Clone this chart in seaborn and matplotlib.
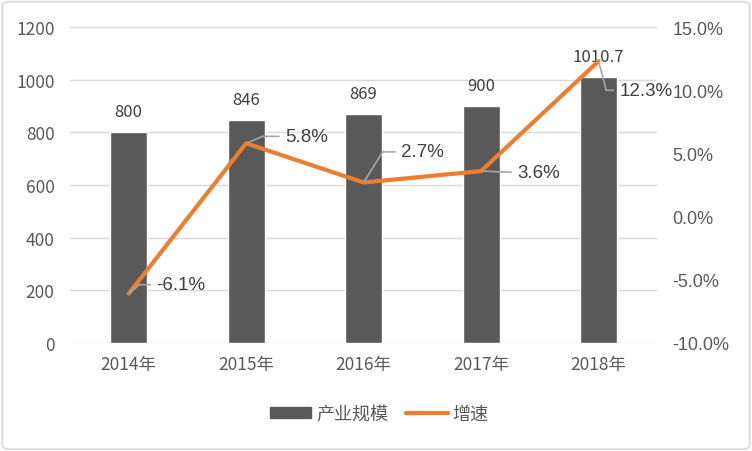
import matplotlib
matplotlib.use("Agg")
import matplotlib.pyplot as plt
import seaborn as sns
import pandas as pd
import numpy as np
from matplotlib.patches import FancyBboxPatch
from matplotlib.lines import Line2D
from matplotlib.patches import Patch

years = ["2014年", "2015年", "2016年", "2017年", "2018年"]
scale = [800, 846, 869, 900, 1010.7]
scale_labels = ["800", "846", "869", "900", "1010.7"]
growth = [-6.1, 5.8, 2.7, 3.6, 12.3]
growth_labels = ["-6.1%", "5.8%", "2.7%", "3.6%", "12.3%"]
left_ticks = [0, 200, 400, 600, 800, 1000, 1200]
right_ticks = [-10, -5, 0, 5, 10, 15]

sns.set_theme(style="white")
plt.rcParams['font.family'] = ['Noto Sans CJK SC', 'DejaVu Sans']

BAR = "#595959"
ORANGE = "#ED7D31"
TXT = "#595959"
GRID = "#D9D9D9"
LAT = ['Liberation Sans', 'DejaVu Sans']

fig = plt.figure(figsize=(7.52, 4.52), dpi=100)
ax = fig.add_axes([0.093, 0.239, 0.781, 0.699])

df = pd.DataFrame({"year": years, "scale": scale, "growth": growth})
sns.barplot(data=df, x="year", y="scale", color=BAR, width=0.315, ax=ax,
            saturation=1, zorder=2)
ax.set_xlim(-0.5, len(years) - 0.5)
ax.set_ylim(0, 1200)
ax.set_yticks(left_ticks)
ax.set_yticklabels([str(t) for t in left_ticks])
ax.grid(axis="y", color=GRID, linewidth=1, zorder=0)
ax.set_axisbelow(True)
ax.set_xlabel("")
ax.set_ylabel("")
for s in ax.spines.values():
    s.set_visible(False)
ax.tick_params(axis="y", length=0, labelsize=12.5, colors=TXT, pad=11)
ax.tick_params(axis="x", length=0, labelsize=12.5, colors=TXT, pad=9)

for i, (v, lab) in enumerate(zip(scale, scale_labels)):
    ax.annotate(lab, (i, v), xytext=(0, 15), textcoords="offset points",
                ha="center", va="center", fontsize=12, color="#404040")

ax2 = ax.twinx()
sns.lineplot(x=np.arange(len(years)), y=growth, color=ORANGE, linewidth=3.0,
             ax=ax2, zorder=3, solid_capstyle="round")
ax2.set_ylim(-10, 15)
ax2.set_yticks(right_ticks)
ax2.set_yticklabels([f"{t:.1f}%" for t in right_ticks], family=LAT)
for s in ax2.spines.values():
    s.set_visible(False)
ax2.tick_params(axis="both", length=0, labelsize=13, colors=TXT, pad=11)
ax2.set_xlim(-0.5, len(years) - 0.5)

offsets = [(20, 6.5), (28, 5), (27, 22), (26, -1), (15, -21)]
conns = ["angle,angleA=180,angleB=40,rad=0",
         "angle,angleA=180,angleB=23,rad=0",
         "angle,angleA=180,angleB=58,rad=0",
         "arc3,rad=0",
         "angle,angleA=180,angleB=-75,rad=0"]
for i, (v, lab, off, cs) in enumerate(zip(growth, growth_labels, offsets, conns)):
    ax2.annotate(lab, (i, v), xytext=off, textcoords="offset points",
                 ha="left", va="center", fontsize=13.5, color="#404040",
                 family=LAT,
                 arrowprops=dict(arrowstyle="-", color="#A6A6A6", lw=1.2,
                                 shrinkA=2, shrinkB=1, relpos=(0, 0.5),
                                 connectionstyle=cs),
                 zorder=4)

handles = [Patch(facecolor=BAR, edgecolor=BAR),
           Line2D([0], [0], color=ORANGE, linewidth=3.0, solid_capstyle="round")]
leg = fig.legend(handles, ["产业规模", "增速"], loc="center",
                 bbox_to_anchor=(0.504, 0.082), ncol=2, frameon=False,
                 fontsize=13, handlelength=2.3, handleheight=0.55,
                 handletextpad=0.25, columnspacing=1.0)
for t in leg.get_texts():
    t.set_color(TXT)

border = FancyBboxPatch((0.003, 0.004), 0.994, 0.99,
                        boxstyle="round,pad=0,rounding_size=0.01",
                        transform=fig.transFigure, facecolor="none",
                        edgecolor=GRID, linewidth=1.2)
fig.patches.append(border)

fig.savefig("out.png", dpi=100)
